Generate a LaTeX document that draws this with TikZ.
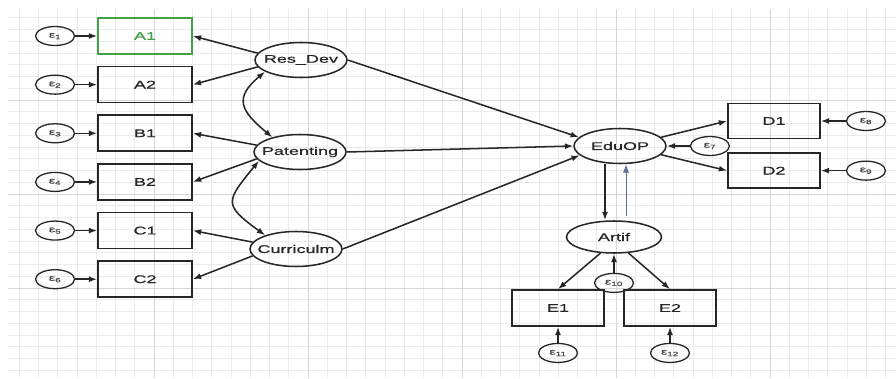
\documentclass[tikz,border=0pt]{standalone}
\usepackage{fontspec}
\usepackage{xcolor}
\newfontfamily\semfont[FakeStretch=1.62, FakeBold=0.6]{Liberation Sans}
\usetikzlibrary{arrows.meta, shapes.geometric, positioning}

\definecolor{gridminor}{HTML}{EAEAEF}
\definecolor{gridmajor}{HTML}{D5D5DB}
\definecolor{ink}{HTML}{262626}
\definecolor{markgreen}{HTML}{43A047}
\definecolor{backpath}{HTML}{5C6B99}

\begin{document}
\begin{tikzpicture}[
x=0.3mm, y=0.3mm,
node distance=3.3mm and 6.6mm,
>={Latex[length=2.5mm, width=1.8mm]},
indicator/.style={rectangle, draw=ink, line width=1.4pt, minimum width=28.2mm, minimum height=10.8mm, font=\semfont\fontsize{9.5}{11}\selectfont, text=ink},
latent/.style={ellipse, draw=ink, line width=1.3pt, minimum width=27.6mm, minimum height=10.5mm, inner xsep=-2mm, inner ysep=0pt, font=\semfont\fontsize{9.5}{11}\selectfont, text=ink},
errterm/.style={ellipse, draw=ink, line width=1.1pt, minimum width=11.7mm, minimum height=5.7mm, inner sep=0pt, font=\semfont\fontsize{7.5}{8}\selectfont, text=ink!85},
link/.style={->, draw=ink, line width=1.3pt},
backlink/.style={->, draw=backpath, line width=0.8pt}
]

% background grid
\useasboundingbox (0,0) rectangle (896,378);
\fill[white] (0,0) rectangle (896,378);
\begin{scope}
\clip (8,0) rectangle (896,368);
\foreach \gx in {0,1,...,46} \draw[gridminor, line width=0.6pt] (\gx*19.25,0) -- (\gx*19.25,378);
\foreach \gy in {0,1,...,32} \draw[gridminor, line width=0.6pt] (0,372-\gy*11.75) -- (896,372-\gy*11.75);
\foreach \gx in {1,...,5} \draw[gridmajor, line width=0.7pt] (\gx*154,0) -- (\gx*154,378);
\foreach \gy in {0,1,2} \draw[gridmajor, line width=0.7pt] (0,278-\gy*94) -- (896,278-\gy*94);
\end{scope}

% indicators on the left
\node[indicator, draw=markgreen, text=markgreen] (A1) at (145,342) {A1};
\node[indicator, below=of A1] (A2) {A2};
\node[indicator, below=of A2] (B1) {B1};
\node[indicator, below=of B1] (B2) {B2};
\node[indicator, below=of B2] (C1) {C1};
\node[indicator, below=of C1] (C2) {C2};

\node[errterm, left=of A1] (e1) {ε\textsubscript{1}};
\node[errterm, left=of A2] (e2) {ε\textsubscript{2}};
\node[errterm, left=of B1] (e3) {ε\textsubscript{3}};
\node[errterm, left=of B2] (e4) {ε\textsubscript{4}};
\node[errterm, left=of C1] (e5) {ε\textsubscript{5}};
\node[errterm, left=of C2] (e6) {ε\textsubscript{6}};

% latent variables
\node[latent] (ResDev) at (301,318) {Res\_Dev};
\node[latent] (Patent) at (300,226) {Patenting};
\node[latent] (Curric) at (296,129) {Curriculm};
\node[latent] (EduOP) at (620,232) {EduOP};
\node[latent, minimum width=28.5mm, minimum height=9.6mm] (Artif) at (614,141) {Artif};
\node[errterm, right=6.9mm of EduOP] (e7) {ε\textsubscript{7}};

% indicators on the right
\node[indicator, minimum width=27.6mm, minimum height=10.5mm] (D1) at (774,257) {D1};
\node[indicator, minimum width=27.6mm, minimum height=10.5mm, below=3.9mm of D1] (D2) {D2};
\node[errterm, right=7.5mm of D1] (e8) {ε\textsubscript{8}};
\node[errterm, right=7.5mm of D2] (e9) {ε\textsubscript{9}};

\node[indicator, minimum width=27.6mm] (E1) at (558,70) {E1};
\node[indicator, minimum width=27.6mm] (E2) at (670,70) {E2};
\node[errterm, below=5.7mm of Artif] (e10) {ε\textsubscript{10}};
\node[errterm, below=4.8mm of E1] (e11) {ε\textsubscript{11}};
\node[errterm, below=4.8mm of E2] (e12) {ε\textsubscript{12}};

% loadings
\draw[link] (ResDev.171) -- (A1.east);
\draw[link] (ResDev.189) -- (A2.east);
\draw[link] (Patent.171) -- (B1.east);
\draw[link] (Patent.189) -- (B2.east);
\draw[link] (Curric.171) -- (C1.east);
\draw[link] (Curric.189) -- (C2.east);
\foreach \bx/\ex in {A1/e1, A2/e2, B1/e3, B2/e4, C1/e5, C2/e6}
  \draw[link] (\ex) -- (\bx);

% covariances
\draw[link, <->] (ResDev.198) to[out=220, in=140, looseness=1.6] (Patent.152);
\draw[link, <->] (Patent.192) to[out=231, in=144, looseness=1.8] (Curric.156);

% structural paths
\draw[link] (ResDev.east) -- (EduOP.168);
\draw[link] (Patent.east) -- (EduOP.west);
\draw[link] (Curric.east) -- (EduOP.193);
\draw[link] (EduOP.12) -- (D1.west);
\draw[link] (EduOP.-12) -- (D2.west);
\draw[link] (e7) -- (EduOP.east);
\draw[link] (e8) -- (D1);
\draw[link] (e9) -- (D2);

\coordinate (downtop) at ([xshift=-4.5mm]EduOP.south);
\coordinate (uptop) at ([xshift=1.8mm]EduOP.south);
\draw[link] (downtop) -- (downtop |- Artif.north);
\draw[backlink] ([yshift=1.2mm]uptop |- Artif.north) -- (uptop);

\draw[link] (Artif.230) -- (E1.north);
\draw[link] (Artif.-48) -- (E2.north);
\draw[link] (e10) -- (Artif);
\draw[link] (e11) -- (E1);
\draw[link] (e12) -- (E2);

\end{tikzpicture}
\end{document}
